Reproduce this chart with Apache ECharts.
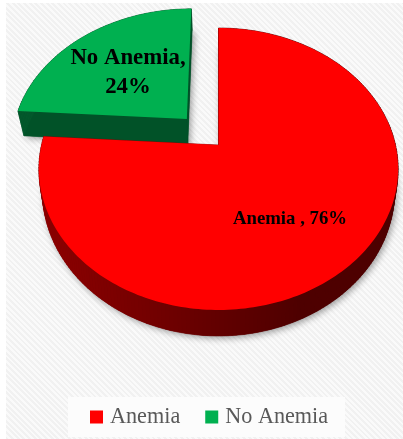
<!DOCTYPE html>
<html>
<head>
<meta charset="utf-8">
<script src="https://cdn.jsdelivr.net/npm/echarts@6/dist/echarts.min.js"></script>
<style>
  html, body { margin: 0; padding: 0; width: 403px; height: 439px; background: #fff; overflow: hidden; }
  #backdrop {
    position: absolute; left: 6px; top: 3px; right: 0; bottom: 0;
    background: repeating-linear-gradient(45deg, #f1f1f1 0, #f1f1f1 2px, #fafafa 2px, #fafafa 4px);
  }
  #legendPlate { position: absolute; left: 68px; top: 397px; width: 277px; height: 40px; background: #fcfcfc; }
  #chart { position: absolute; left: 0; top: 0; width: 403px; height: 439px; }
</style>
</head>
<body>
<div id="backdrop"></div>
<div id="legendPlate"></div>
<div id="chart"></div>
<script>
const categories = ['Anemia', 'No Anemia'];
const shares = [76, 24];
const labelSeparators = [' , ', ',\n'];

const faceColors = ['#ff0000', '#00b050'];
// Wall shade, darkening from left to right across the disc.
const wallColors = [[[138, 0, 0], [78, 0, 0]], [[3, 88, 44], [0, 76, 36]]];

// Tilted-disc projection: unit circle (u, v) onto the screen, nearer edge larger.
const apexX = 218.5, apexY = 145;
const scaleX = 177, scaleY = 136.9, tilt = 0.17;
const thickness = [21.6, 26];
const sink = [0.98, 0.97];
const explode = [0, 0.27];
const labelAnchors = [[290, 219], [128, 72.5]];
const labelSizes = [18.8, 22.8];

const total = shares.reduce((a, b) => a + b, 0);

function project(u, v, lowerIndex) {
  const w = 1 + tilt * v;
  const lower = lowerIndex !== undefined;
  const x = scaleX * u / w * (lower ? sink[lowerIndex] : 1);
  const y = -scaleY * v / w + (lower ? thickness[lowerIndex] / w : 0);
  return [apexX + x, apexY + y];
}

function wallShade(index, x) {
  const t = Math.min(1, Math.max(0, (x - 60) / 240));
  const [a, b] = wallColors[index];
  return 'rgb(' + a.map((c, k) => Math.round(c + (b[k] - c) * t)).join(',') + ')';
}

function renderSlice(index) {
  return function () {
    const start = shares.slice(0, index).reduce((a, b) => a + b, 0) / total * 2 * Math.PI;
    const sweep = shares[index] / total * 2 * Math.PI;
    const mid = start + sweep / 2;
    const du = Math.sin(mid) * explode[index];
    const dv = Math.cos(mid) * explode[index];
    const steps = Math.ceil(sweep / 0.02);
    const rim = [];
    for (let i = 0; i <= steps; i++) {
      const a = start + sweep * i / steps;
      rim.push([du + Math.sin(a), dv + Math.cos(a)]);
    }
    const center = [du, dv];
    const top = [center, ...rim].map(p => project(p[0], p[1]));
    const low = [center, ...rim].map(p => project(p[0], p[1], index));
    const children = [{
      type: 'polygon',
      shape: { points: low },
      style: { fill: wallShade(index, 200), shadowBlur: 7, shadowOffsetX: 2, shadowOffsetY: 2, shadowColor: 'rgba(0,0,0,0.4)' }
    }];
    // Wall quads joining the upper face to the lower one.
    const n = top.length;
    for (let i = 0; i < n; i++) {
      const j = (i + 1) % n;
      const shade = wallShade(index, top[i][0]);
      children.push({
        type: 'polygon',
        shape: { points: [top[i], top[j], low[j], low[i]] },
        style: { fill: shade, stroke: shade, lineWidth: 0.6 }
      });
    }
    children.push({ type: 'polygon', shape: { points: top }, style: { fill: faceColors[index] } });
    children.push({
      type: 'text',
      x: labelAnchors[index][0],
      y: labelAnchors[index][1],
      style: {
        text: categories[index] + labelSeparators[index] + shares[index] + '%',
        fill: '#000',
        font: 'bold ' + labelSizes[index] + 'px "Liberation Serif"',
        align: 'center',
        verticalAlign: 'middle',
        lineHeight: 29
      }
    });
    return { type: 'group', children };
  };
}

const chart = echarts.init(document.getElementById('chart'), null, { renderer: 'canvas' });
chart.setOption({
  animation: false,
  backgroundColor: 'transparent',
  legend: {
    data: categories,
    left: 85,
    top: 401,
    icon: 'rect',
    itemWidth: 13,
    itemHeight: 13,
    itemGap: 25,
    selectedMode: false,
    textStyle: { fontFamily: 'Liberation Serif', fontSize: 22.2, color: '#595959', padding: [0, 0, 0, 2] }
  },
  // The exploded slice goes first so the larger slice overlaps its wall.
  series: [1, 0].map(i => ({
    type: 'custom',
    name: categories[i],
    coordinateSystem: 'none',
    silent: true,
    itemStyle: { color: faceColors[i] },
    data: [shares[i]],
    renderItem: renderSlice(i)
  }))
});
</script>
</body>
</html>
